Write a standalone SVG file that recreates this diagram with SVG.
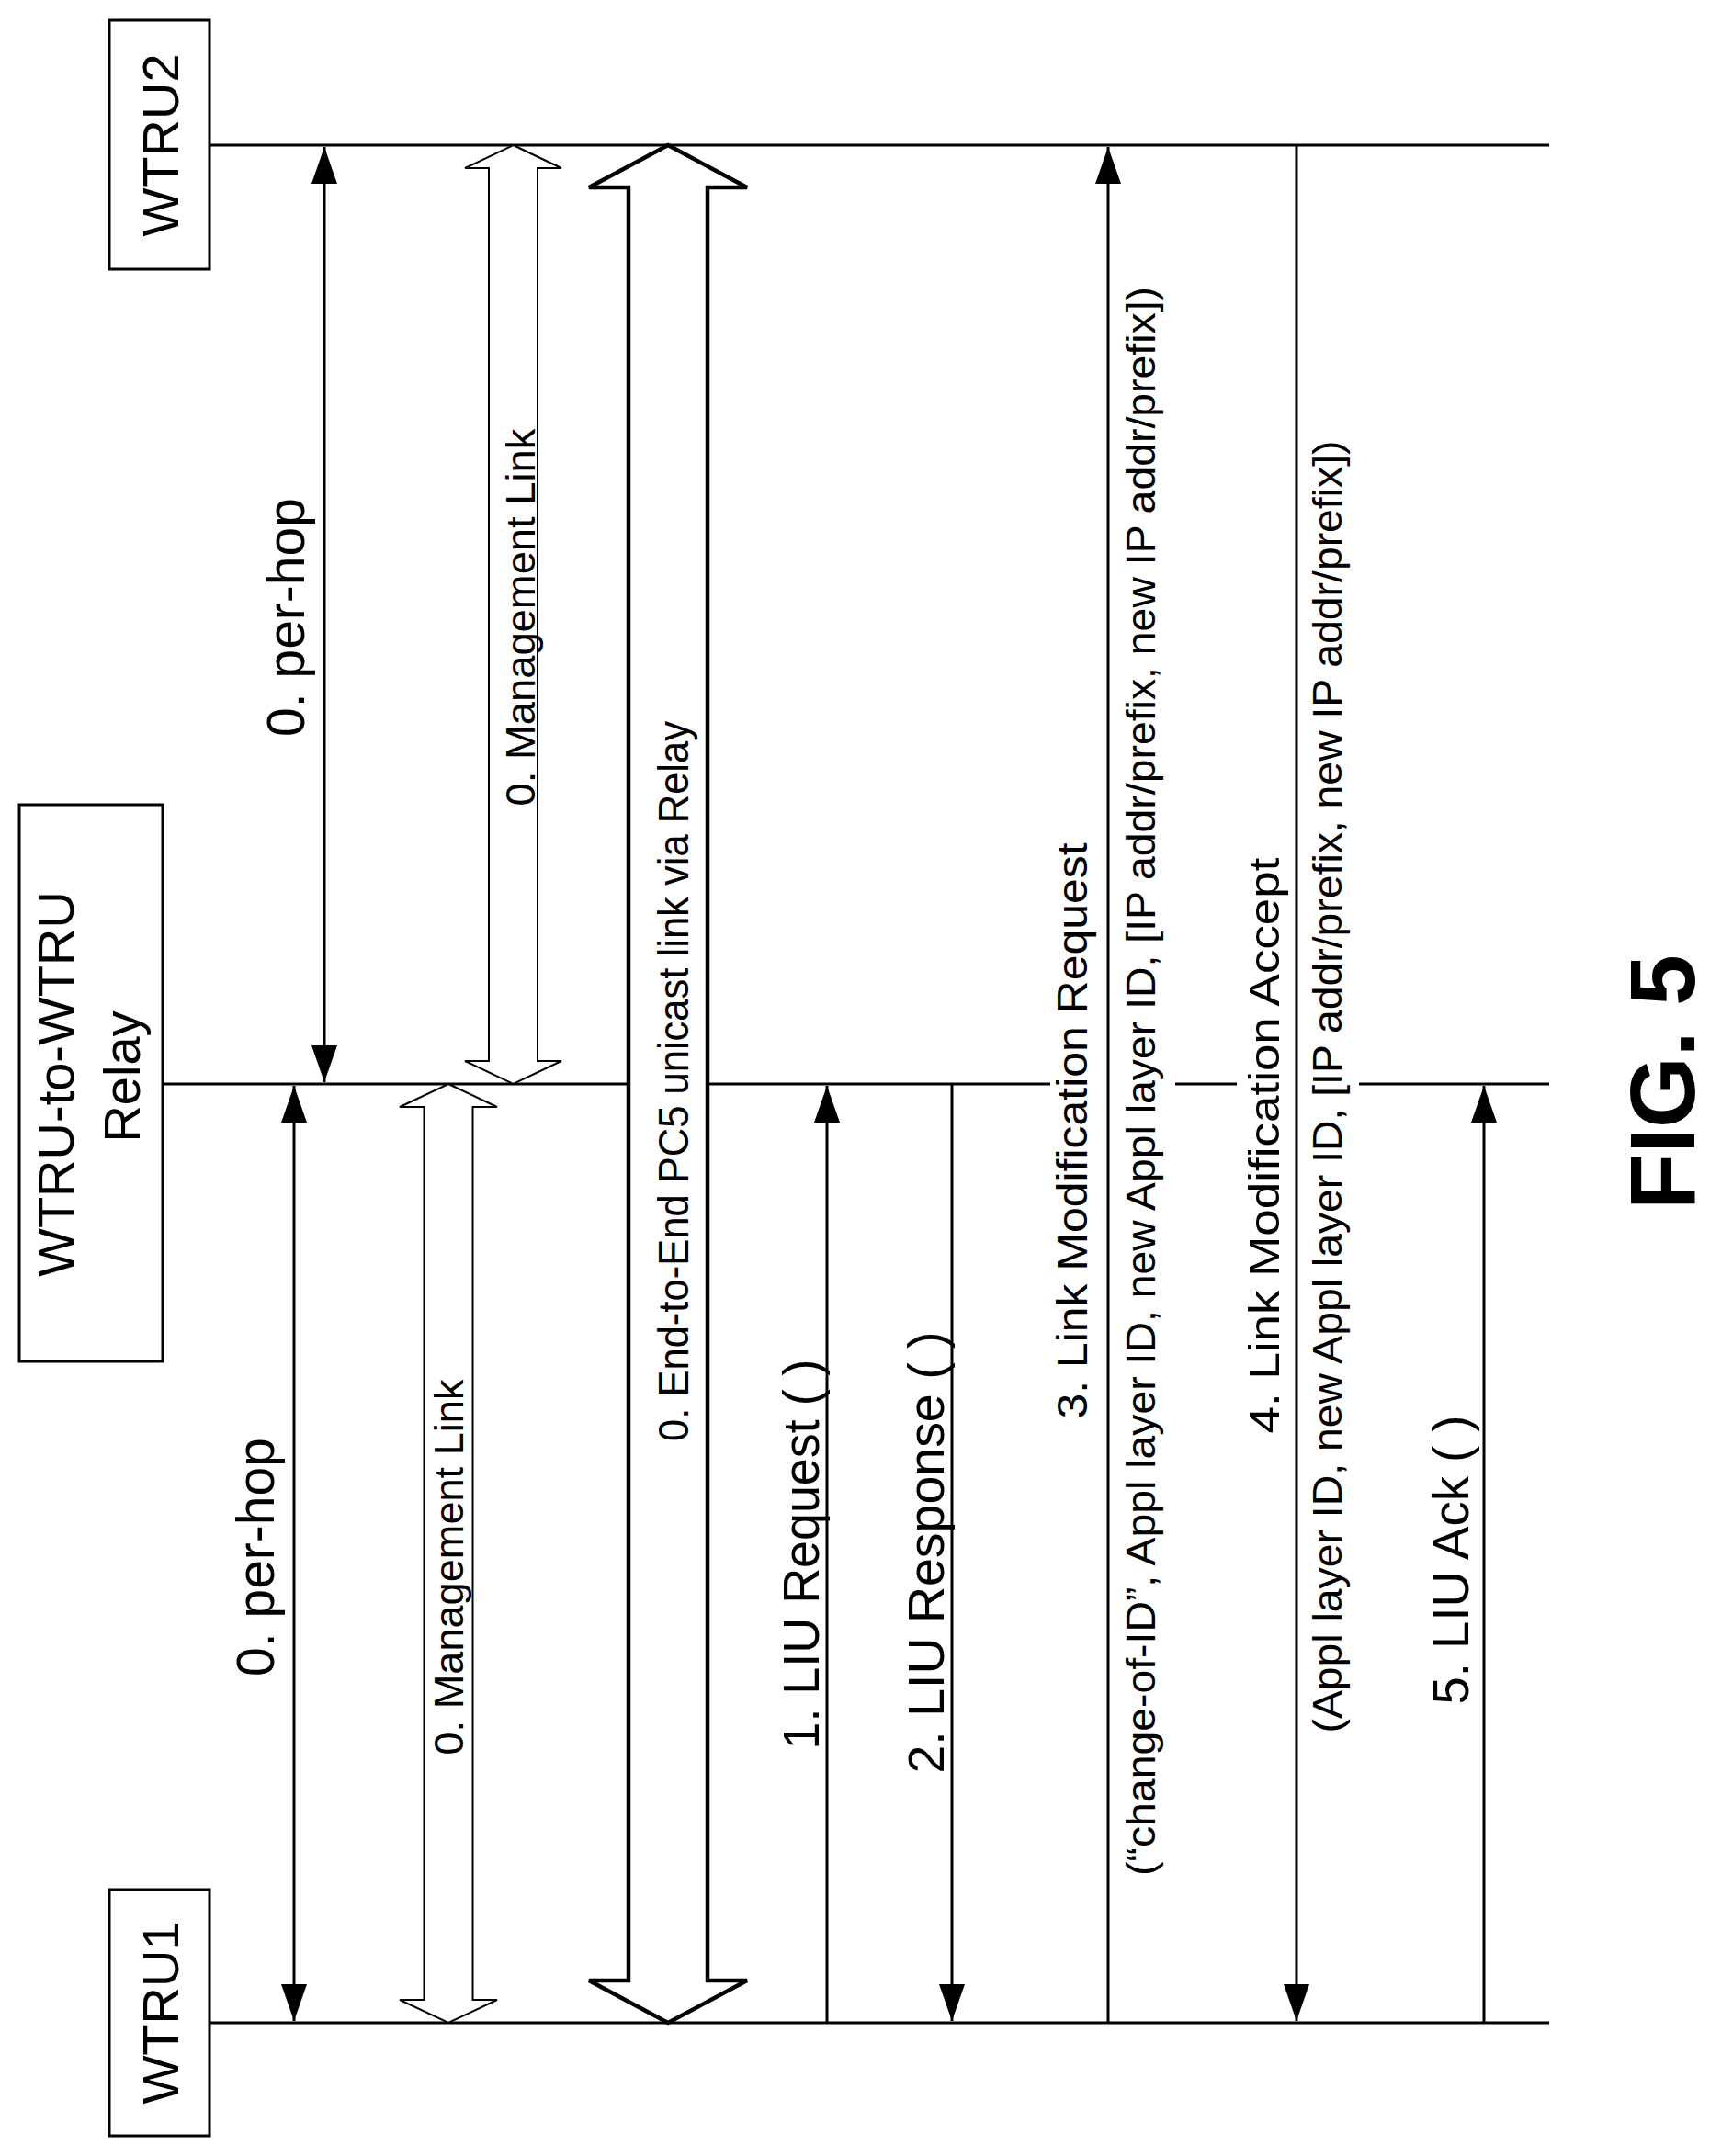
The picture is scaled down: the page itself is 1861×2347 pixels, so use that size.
<svg xmlns="http://www.w3.org/2000/svg" width="1861" height="2347" viewBox="0 0 1861 2347">
<style>
.ln{stroke:#000;stroke-width:3;fill:none}
.box{stroke:#000;stroke-width:3;fill:#fff}
.t{font-family:"Liberation Sans",Arial,sans-serif;fill:#000;text-anchor:middle}
.hol{fill:#fff;stroke:#000;stroke-width:2}
.hol2{fill:#fff;stroke:#000;stroke-width:4.5}
</style>
<defs>
<marker id="ah" markerUnits="userSpaceOnUse" markerWidth="42" markerHeight="30" refX="40" refY="15" orient="auto-start-reverse" viewBox="0 0 42 30">
<path d="M0,1 L40,15 L0,29 Z" fill="#000"/>
</marker>
</defs>
<g id="lifelines">
<line class="ln" x1="228" y1="158" x2="1686" y2="158"/>
<line class="ln" x1="228" y1="2202" x2="1686" y2="2202"/>
<line class="ln" x1="177" y1="1180" x2="684" y2="1180"/>
<line class="ln" x1="770" y1="1180" x2="1143" y2="1180"/>
<line class="ln" x1="1279" y1="1180" x2="1346" y2="1180"/>
<line class="ln" x1="1479" y1="1180" x2="1686" y2="1180"/>
</g>
<g id="wtru2"><rect class="box" x="119" y="22" width="109" height="271"/><text class="t" font-size="56" transform="translate(194,158) rotate(-90)">WTRU2</text></g>
<g id="relay"><rect class="box" x="21" y="876" width="156" height="606"/><text class="t" font-size="56" transform="translate(80,1180) rotate(-90)">WTRU-to-WTRU</text><text class="t" font-size="56" transform="translate(152,1172) rotate(-90)">Relay</text></g>
<g id="wtru1"><rect class="box" x="119" y="2057" width="109" height="268"/><text class="t" font-size="56" transform="translate(194,2191) rotate(-90)">WTRU1</text></g>
<g id="connectors">
<line class="ln" x1="353" y1="160" x2="353" y2="1178" marker-start="url(#ah)" marker-end="url(#ah)"/>
<line class="ln" x1="320" y1="1182" x2="320" y2="2200" marker-start="url(#ah)" marker-end="url(#ah)"/>
<polygon class="hol" points="558.5,158 611,183 585,183 585,1155 611,1155 558.5,1180 506,1155 532,1155 532,183 506,183"/>
<polygon class="hol" points="488,1180 541,1205 514.5,1205 514.5,2177 541,2177 488,2202 435,2177 461.5,2177 461.5,1205 435,1205"/>
<polygon class="hol2" points="727,158 813,204 770,204 770,2156 813,2156 727,2202 641,2156 684,2156 684,204 641,204"/>
<line class="ln" x1="900" y1="2202" x2="900" y2="1182" marker-end="url(#ah)"/>
<line class="ln" x1="1036" y1="1180" x2="1036" y2="2200" marker-end="url(#ah)"/>
<line class="ln" x1="1206" y1="2202" x2="1206" y2="160" marker-end="url(#ah)"/>
<line class="ln" x1="1411" y1="158" x2="1411" y2="2200" marker-end="url(#ah)"/>
<line class="ln" x1="1615" y1="2202" x2="1615" y2="1182" marker-end="url(#ah)"/>
</g>
<g id="labels">
<text class="t" font-size="57" transform="translate(331,672) rotate(-90)">0. per-hop</text>
<text class="t" font-size="57" transform="translate(298,1695) rotate(-90)">0. per-hop</text>
<text class="t" font-size="44" textLength="411" lengthAdjust="spacingAndGlyphs" transform="translate(582,672) rotate(-90)">0. Management Link</text>
<text class="t" font-size="44" textLength="409" lengthAdjust="spacingAndGlyphs" transform="translate(504,1706) rotate(-90)">0. Management Link</text>
<text class="t" font-size="46" textLength="784" lengthAdjust="spacingAndGlyphs" transform="translate(749,1177) rotate(-90)">0. End-to-End PC5 unicast link via Relay</text>
<text class="t" font-size="56" textLength="425" lengthAdjust="spacingAndGlyphs" transform="translate(891,1692) rotate(-90)">1. LIU Request ( )</text>
<text class="t" font-size="56" textLength="481" lengthAdjust="spacingAndGlyphs" transform="translate(1027,1690) rotate(-90)">2. LIU Response ( )</text>
<text class="t" font-size="46" textLength="627" lengthAdjust="spacingAndGlyphs" transform="translate(1183,1231) rotate(-90)">3. Link Modification Request</text>
<text class="t" font-size="44" textLength="1730" lengthAdjust="spacingAndGlyphs" transform="translate(1257,1177) rotate(-90)">(“change-of-ID”, Appl layer ID, new Appl layer ID, [IP addr/prefix, new IP addr/prefix])</text>
<text class="t" font-size="46" textLength="627" lengthAdjust="spacingAndGlyphs" transform="translate(1392,1247) rotate(-90)">4. Link Modification Accept</text>
<text class="t" font-size="44" textLength="1407" lengthAdjust="spacingAndGlyphs" transform="translate(1460,1183) rotate(-90)">(Appl layer ID, new Appl layer ID, [IP addr/prefix, new IP addr/prefix])</text>
<text class="t" font-size="56" textLength="315" lengthAdjust="spacingAndGlyphs" transform="translate(1598,1698) rotate(-90)">5. LIU Ack ( )</text>
<text class="t" font-size="100" font-weight="bold" transform="translate(1844,1178) rotate(-90)">FIG. 5</text>
</g>
</svg>
